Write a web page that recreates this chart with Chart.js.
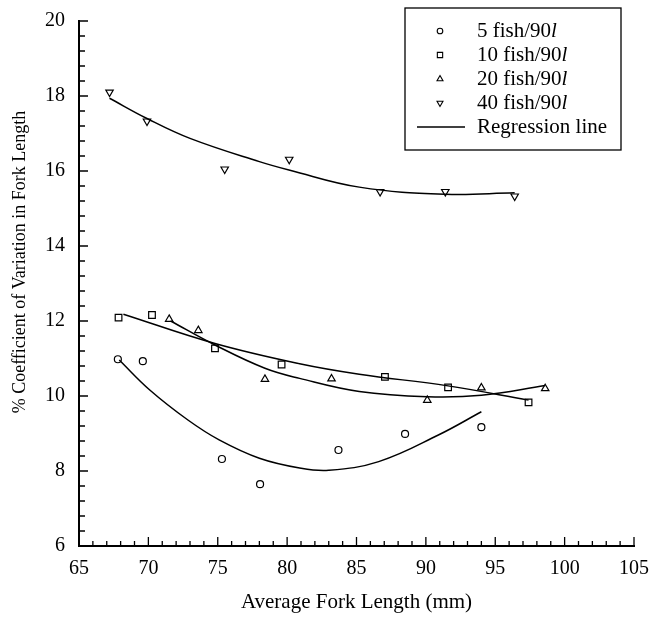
<html>
<head>
<script src="https://cdn.jsdelivr.net/npm/chart.js"></script>
<style>
  body { margin: 0; background: #fff; }
</style>
</head>
<body>
<canvas id="myChart" width="650" height="619"></canvas>
<script>
const serif = '"Liberation Serif", "Times New Roman", serif'

// measured points, one pair of arrays per stocking density
const fish5X = [67.8, 69.6, 75.3, 78.05, 83.7, 88.5, 94.0]
const fish5Y = [10.98, 10.93, 8.32, 7.65, 8.56, 8.99, 9.17]
const fish10X = [67.85, 70.26, 74.8, 79.6, 87.05, 91.6, 97.4]
const fish10Y = [12.09, 12.16, 11.27, 10.84, 10.51, 10.23, 9.83]
const fish20X = [71.5, 73.6, 78.4, 83.2, 90.1, 94.0, 98.6]
const fish20Y = [12.05, 11.75, 10.45, 10.46, 9.89, 10.22, 10.2]
const fish40X = [67.2, 69.9, 75.5, 80.15, 86.7, 91.4, 96.4]
const fish40Y = [18.1, 17.33, 16.05, 16.31, 15.45, 15.45, 15.33]

// regression curves
const reg5X = [67.9, 70.1, 72.85, 75.1, 78.0, 80.9, 83.0, 86.6, 90.9, 94.0]
const reg5Y = [10.96, 10.16, 9.36, 8.83, 8.34, 8.08, 8.02, 8.25, 8.96, 9.58]
const reg10X = [68.2, 74.8, 80.9, 85.2, 91.6, 97.4]
const reg10Y = [12.18, 11.4, 10.86, 10.58, 10.27, 9.89]
const reg20X = [71.6, 74.8, 78.4, 80.9, 85.2, 90.1, 94.0, 98.6]
const reg20Y = [12.0, 11.36, 10.74, 10.47, 10.12, 9.98, 10.02, 10.28]
const reg40X = [67.2, 69.9, 73.0, 78.0, 80.2, 85.2, 91.4, 96.4]
const reg40Y = [17.94, 17.4, 16.87, 16.25, 16.02, 15.57, 15.38, 15.42]

const labels = ["5 fish/90l", "10 fish/90l", "20 fish/90l", "40 fish/90l"]
const regLabel = "Regression line"
const xTitle = "Average Fork Length (mm)"
const yTitle = "% Coefficient of Variation in Fork Length"

function pts(xs, ys) {
  return xs.map(function (x, i) { return { x: x, y: ys[i] } })
}

function markers(label, xs, ys, style, radius, rotation) {
  return {
    label: label,
    data: pts(xs, ys),
    pointStyle: style,
    pointRadius: radius,
    pointRotation: rotation || 0,
    pointBorderWidth: 1.2,
    borderColor: "#000",
    backgroundColor: "rgba(0,0,0,0)",
    showLine: false
  }
}

function curve(xs, ys) {
  return {
    label: regLabel,
    data: pts(xs, ys),
    showLine: true,
    pointRadius: 0,
    borderColor: "#000",
    borderWidth: 1.5,
    tension: 0.4,
    fill: false
  }
}

const datasets = [
  markers(labels[0], fish5X, fish5Y, "circle", 3.5),
  markers(labels[1], fish10X, fish10Y, "rect", 4.7),
  markers(labels[2], fish20X, fish20Y, "triangle", 4.3),
  markers(labels[3], fish40X, fish40Y, "triangle", 4.3, 180),
  curve(reg5X, reg5Y),
  curve(reg10X, reg10Y),
  curve(reg20X, reg20Y),
  curve(reg40X, reg40Y)
]

// inward ticks, y title and the boxed legend
const extras = {
  id: "extras",
  afterDraw(chart) {
    const ctx = chart.ctx
    const xs = chart.scales.x
    const ys = chart.scales.y
    const a = chart.chartArea
    ctx.save()
    ctx.strokeStyle = "#000"
    ctx.lineWidth = 1.3
    ctx.beginPath()
    for (let i = 0; i <= 40; i++) {
      const px = xs.getPixelForValue(65 + i)
      const len = i % 5 === 0 ? 9 : 5
      ctx.moveTo(px, a.bottom)
      ctx.lineTo(px, a.bottom - len)
    }
    for (let i = 0; i <= 35; i++) {
      const py = ys.getPixelForValue(6 + i * 0.4)
      const len = i % 5 === 0 ? 9 : 6
      ctx.moveTo(a.left, py)
      ctx.lineTo(a.left + len, py)
    }
    ctx.stroke()

    // y axis title, sitting a bit above the axis middle as in the print
    ctx.save()
    ctx.translate(20, 262)
    ctx.rotate(-Math.PI / 2)
    ctx.fillStyle = "#000"
    ctx.font = "18px " + serif
    ctx.textAlign = "center"
    ctx.textBaseline = "middle"
    ctx.fillText(yTitle, 0, 0)
    ctx.restore()

    // legend box
    const bx = 405, by = 8, bw = 216, bh = 142
    ctx.fillStyle = "#fff"
    ctx.fillRect(bx, by, bw, bh)
    ctx.lineWidth = 1.3
    ctx.strokeRect(bx, by, bw, bh)
    ctx.textBaseline = "middle"
    ctx.textAlign = "left"
    const rowH = 24
    for (let i = 0; i < 4; i++) {
      const ds = chart.data.datasets[i]
      const ry = 31 + i * rowH
      ctx.fillStyle = "rgba(0,0,0,0)"
      ctx.lineWidth = 1.1
      Chart.helpers.drawPoint(ctx, {
        pointStyle: ds.pointStyle,
        radius: ds.pointRadius * 0.8,
        rotation: ds.pointRotation,
        borderWidth: 1.1
      }, 440, ry)
      const txt = ds.label
      ctx.fillStyle = "#000"
      ctx.font = "21px " + serif
      const head = txt.slice(0, -1)
      ctx.fillText(head, 477, ry)
      const w = ctx.measureText(head).width
      ctx.font = "italic 21px " + serif
      ctx.fillText(txt.slice(-1), 477 + w, ry)
    }
    const ly = 31 + 4 * rowH
    ctx.lineWidth = 1.3
    ctx.beginPath()
    ctx.moveTo(417, ly)
    ctx.lineTo(465, ly)
    ctx.stroke()
    ctx.fillStyle = "#000"
    ctx.font = "21px " + serif
    ctx.fillText(regLabel, 477, ly)
    ctx.restore()
  }
}

const config = {
  type: "scatter",
  data: { datasets: datasets },
  options: {
    responsive: false,
    animation: false,
    layout: { padding: { top: 21, right: 16, left: 0, bottom: 0 } },
    plugins: { legend: { display: false }, tooltip: { enabled: false } },
    scales: {
      x: {
        type: "linear",
        position: "bottom",
        min: 65,
        max: 105,
        grid: { display: false },
        border: { display: true, color: "#000", width: 2 },
        ticks: { stepSize: 5, color: "#000", padding: 3, font: { family: serif, size: 20 } },
        title: {
          display: true,
          text: xTitle,
          color: "#000",
          font: { family: serif, size: 21 },
          padding: { top: 0, bottom: 4 }
        },
        afterFit(s) {
          s.height = 73
          s.paddingLeft = 0
          s.paddingRight = 0
        }
      },
      y: {
        min: 6,
        max: 20,
        grid: { display: false },
        border: { display: true, color: "#000", width: 2 },
        ticks: { stepSize: 2, color: "#000", padding: 6, font: { family: serif, size: 20 } },
        title: { display: false, text: yTitle },
        afterFit(s) {
          s.width = 79
          s.paddingTop = 0
          s.paddingBottom = 0
        }
      }
    }
  },
  plugins: [extras]
}

const myChart = new Chart(document.getElementById("myChart"), config)
</script>
</body>
</html>
